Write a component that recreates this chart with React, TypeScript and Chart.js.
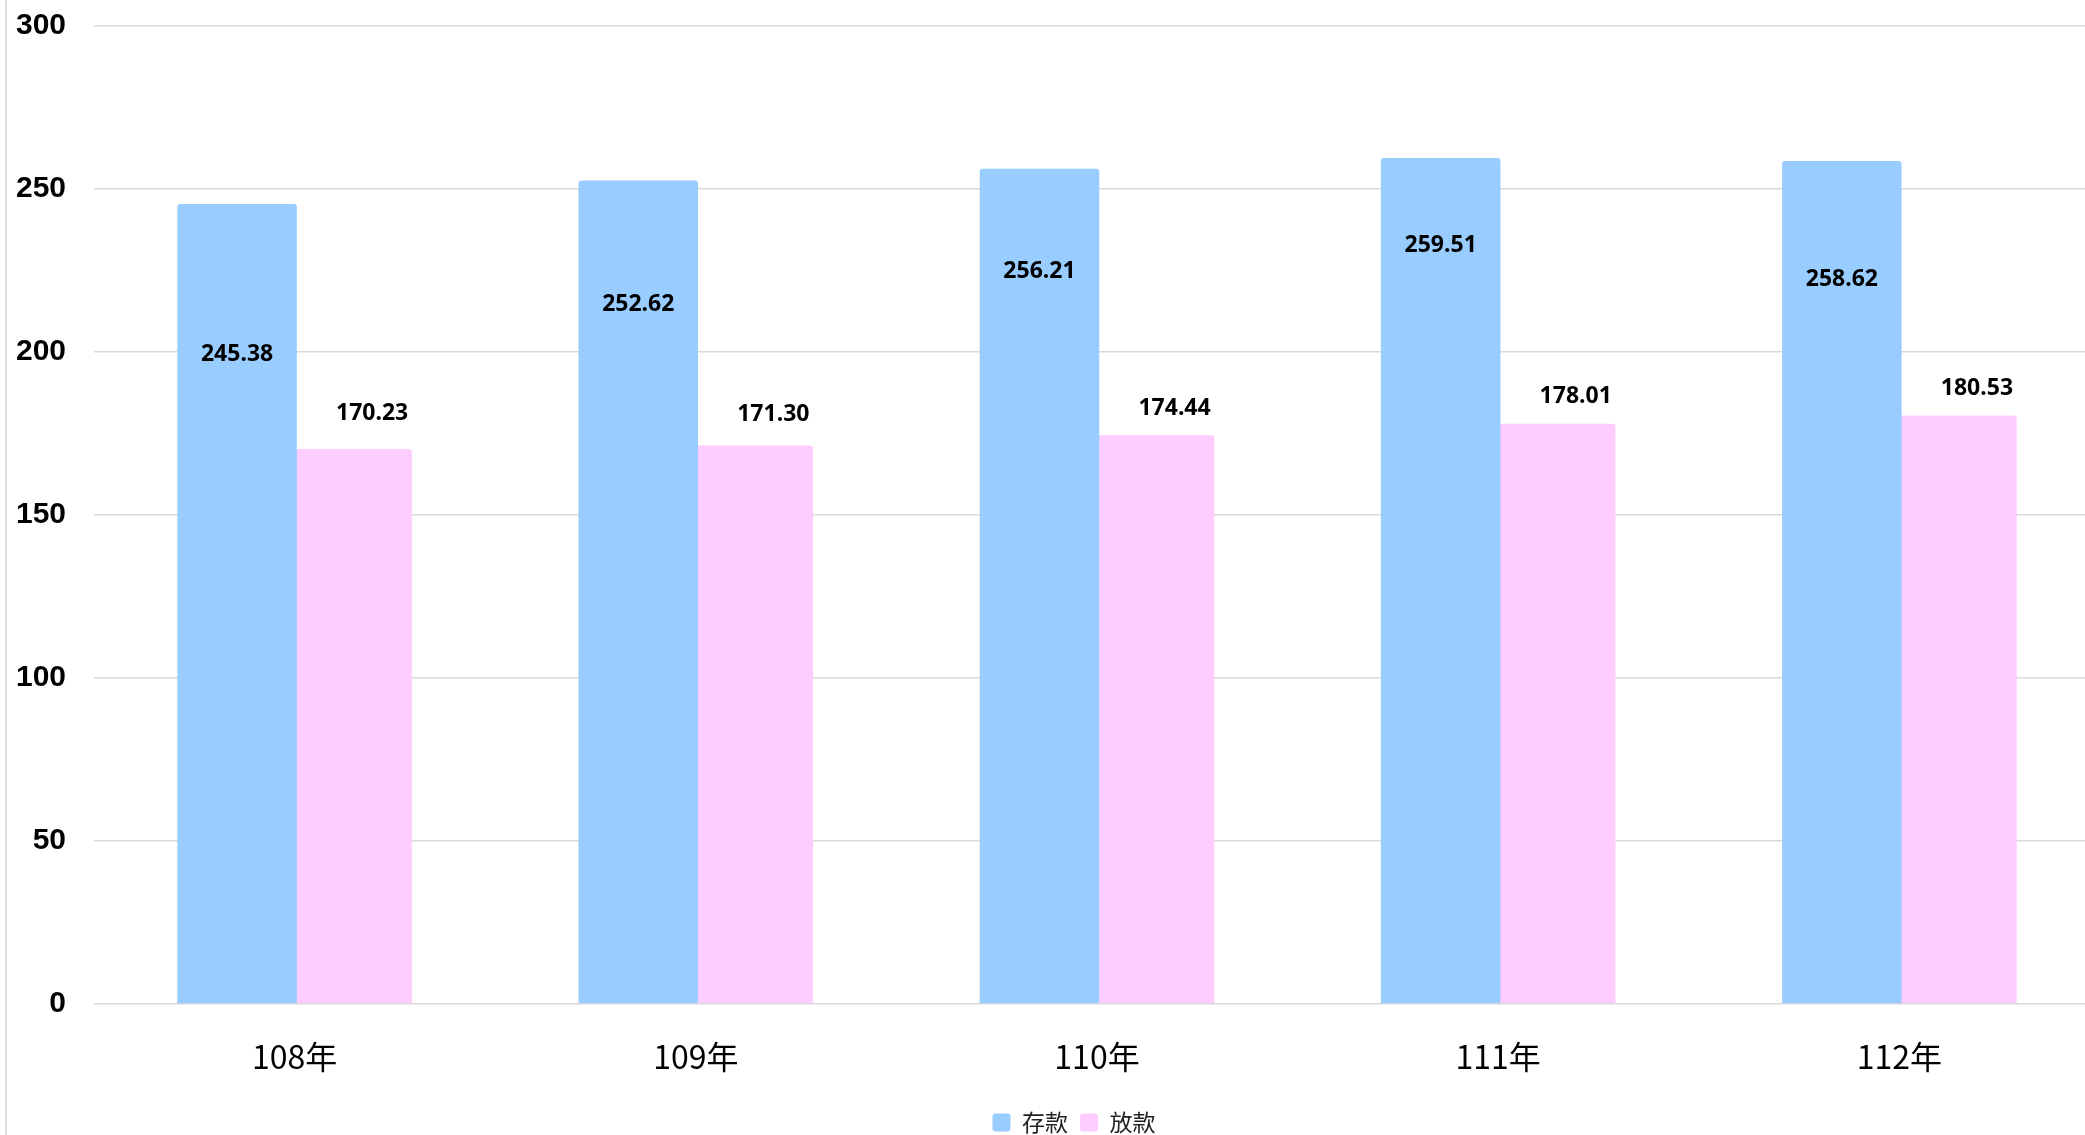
import React, { useEffect, useRef } from "react";
import { Chart, registerables } from "chart.js";

Chart.register(...registerables);

const categories = ["108年", "109年", "110年", "111年", "112年"];
const deposits = [245.38, 252.62, 256.21, 259.51, 258.62];
const loans = [170.23, 171.3, 174.44, 178.01, 180.53];
const seriesNames = ["存款", "放款"];
// where each value label sits, in axis units (hand-placed in the original)
const depositLabelAt = [199.2, 214.6, 224.8, 232.8, 222.3];
const loanLabelAt = [181.0, 180.7, 182.8, 186.5, 188.7];
const yTicks = [0, 50, 100, 150, 200, 250, 300];

const valueLabels = {
  id: "valueLabels",
  afterLayout(chart: any) {
    // the original legend sits slightly right of the plot centre
    if (chart.legend) {
      chart.legend.left += 16;
      chart.legend.right += 16;
    }
  },
  afterDatasetsDraw(chart: any) {
    const ctx = chart.ctx;
    const y = chart.scales.y;
    ctx.save();
    ctx.font = 'bold 23px "Noto Sans"';
    ctx.fillStyle = "#000";
    ctx.textAlign = "center";
    ctx.textBaseline = "middle";
    chart.getDatasetMeta(0).data.forEach((bar: any, i: number) => {
      ctx.fillText(deposits[i].toFixed(2), bar.x, y.getPixelForValue(depositLabelAt[i]));
    });
    chart.getDatasetMeta(1).data.forEach((bar: any, i: number) => {
      ctx.fillText(loans[i].toFixed(2), bar.x + 20, y.getPixelForValue(loanLabelAt[i]));
    });
    ctx.restore();
  },
};

export default function App() {
  const ref = useRef<HTMLCanvasElement | null>(null);
  useEffect(() => {
    if (!ref.current) return;
    const chart = new Chart(ref.current, {
      type: "bar",
      data: {
        labels: categories,
        datasets: [
          {
            label: seriesNames[0],
            data: deposits,
            backgroundColor: "#99CCFF",
            borderRadius: 3,
            borderSkipped: "start",
            categoryPercentage: 0.5736,
            barPercentage: 1.039,
          },
          {
            label: seriesNames[1],
            data: loans,
            backgroundColor: "#FFCCFF",
            borderRadius: 3,
            borderSkipped: "start",
            categoryPercentage: 0.5736,
            barPercentage: 1.039,
          },
        ],
      },
      options: {
        responsive: false,
        animation: false,
        devicePixelRatio: 1,
        layout: { padding: { left: 16, right: 10, top: 26, bottom: 0 } },
        plugins: {
          tooltip: { enabled: false },
          legend: {
            position: "bottom",
            labels: {
              boxWidth: 18,
              boxHeight: 18,
              padding: 12,
              useBorderRadius: true,
              borderRadius: 3,
              color: "#222",
              font: { family: '"Noto Sans CJK TC"', size: 23 },
            },
          },
        },
        scales: {
          x: {
            grid: { display: false, drawTicks: false },
            border: { display: false },
            ticks: {
              padding: 34,
              color: "#000",
              font: { family: '"Noto Sans CJK TC"', size: 32 },
            },
            afterFit: (scale: any) => {
              scale.height = 95;
            },
          },
          y: {
            min: 0,
            max: 300,
            afterBuildTicks: (scale: any) => {
              scale.ticks = yTicks.map((v) => ({ value: v }));
            },
            grid: { color: "#d9d9d9", lineWidth: 1.5, drawTicks: false },
            border: { display: false },
            ticks: {
              padding: 28,
              color: "#000",
              font: { family: '"Liberation Sans"', size: 30, weight: "bold" },
            },
            afterFit: (scale: any) => {
              scale.width = 78;
              scale.paddingTop = 0;
              scale.paddingBottom = 0;
            },
          },
        },
      },
      plugins: [valueLabels],
    } as any);
    return () => chart.destroy();
  }, []);

  return (
    <div
      style={{
        position: "fixed",
        left: 0,
        top: 0,
        width: 2085,
        height: 1135,
        overflow: "hidden",
        background: "#fff",
      }}
    >
      <canvas
        ref={ref}
        width={2110}
        height={1144}
        style={{ position: "absolute", left: 0, top: 0, display: "block" }}
      />
      <div
        style={{
          position: "absolute",
          left: 5,
          top: 0,
          width: 0,
          height: 1135,
          borderLeft: "2px solid #dedede",
        }}
      />
    </div>
  );
}
